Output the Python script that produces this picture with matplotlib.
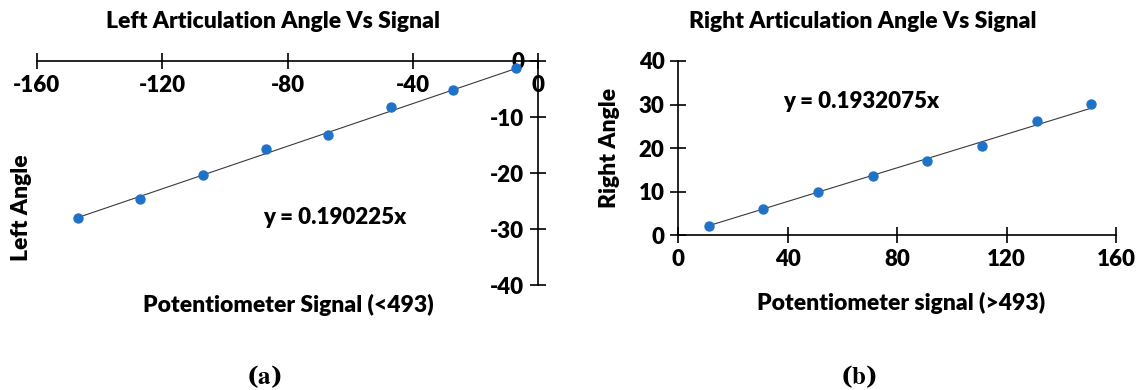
import matplotlib
matplotlib.use("Agg")
import numpy as np
import matplotlib.pyplot as plt

# -------------------------------
# Data
# -------------------------------
left_signal = [-147, -127, -107, -87, -67, -47, -27, -7]
left_angle = [-28.1, -24.6, -20.4, -15.8, -13.3, -8.2, -5.2, -1.2]
left_slope = 0.190225

right_signal = [11, 31, 51, 71, 91, 111, 131, 151]
right_angle = [2.0, 6.05, 10.0, 13.5, 17.0, 20.4, 26.1, 30.2]
right_slope = 0.1932075

left_xticks = [-160, -120, -80, -40, 0]
left_yticks = [0, -10, -20, -30, -40]
right_xticks = [0, 40, 80, 120, 160]
right_yticks = [0, 10, 20, 30, 40]

plt.rcParams['font.family'] = ['Lato', 'DejaVu Sans']
plt.rcParams['font.weight'] = 'bold'
plt.rcParams['mathtext.fontset'] = 'stix'
plt.rcParams['axes.unicode_minus'] = False

dot_color = '#1F72C6'
fs_tick = 16
fs_title = 16.5
fs_label = 16.5
fs_eq = 16

fig = plt.figure(figsize=(11.38, 3.9), dpi=100)


def style_axes(ax):
    for s in ['top', 'right']:
        ax.spines[s].set_visible(False)
    ax.spines['left'].set_position(('data', 0))
    ax.spines['bottom'].set_position(('data', 0))
    for s in ['left', 'bottom']:
        ax.spines[s].set_linewidth(1.2)
    ax.tick_params(direction='inout', length=12, width=1.2, labelsize=fs_tick, pad=4)
    for lab in ax.get_xticklabels() + ax.get_yticklabels():
        lab.set_fontweight('heavy')
    ax.patch.set_visible(False)


# -------------------------------
# (a) Left articulation
# -------------------------------
ax1 = fig.add_axes([0.0325, 0.2692, 0.4403, 0.5744])
ax1.scatter(left_signal, left_angle, s=42, color=dot_color, zorder=3)
xs = np.array([min(left_signal), max(left_signal)])
ax1.plot(xs, left_slope * xs, color='#3a3a3a', lw=0.8, zorder=2)
ax1.set_xlim(-160, 0)
ax1.set_ylim(-40, 0)
ax1.set_xticks(left_xticks)
ax1.set_yticks(left_yticks)
style_axes(ax1)
ax1.text(0.595, 0.3, 'y = 0.190225x', transform=ax1.transAxes, fontsize=fs_eq,
         fontweight='heavy', ha='center', va='center')

# -------------------------------
# (b) Right articulation
# -------------------------------
ax2 = fig.add_axes([0.5962, 0.3974, 0.3845, 0.4462])
ax2.scatter(right_signal, right_angle, s=42, color=dot_color, zorder=3)
xs = np.array([min(right_signal), max(right_signal)])
ax2.plot(xs, right_slope * xs, color='#3a3a3a', lw=0.8, zorder=2)
ax2.set_xlim(0, 160)
ax2.set_ylim(0, 40)
ax2.set_xticks(right_xticks)
ax2.set_yticks(right_yticks)
style_axes(ax2)
ax2.text(0.418, 0.77, 'y = 0.1932075x', transform=ax2.transAxes, fontsize=fs_eq,
         fontweight='heavy', ha='center', va='center')

# -------------------------------
# Titles, labels, captions
# -------------------------------
fig.text(273 / 1138, 1 - 21 / 390, 'Left Articulation Angle Vs Signal',
         fontsize=fs_title, fontweight='heavy', ha='center', va='center')
fig.text(863 / 1138, 1 - 21 / 390, 'Right Articulation Angle Vs Signal',
         fontsize=fs_title, fontweight='heavy', ha='center', va='center')
fig.text(22 / 1138, 1 - 208 / 390, 'Left Angle', rotation=90,
         fontsize=fs_label, fontweight='heavy', ha='center', va='center')
fig.text(610 / 1138, 1 - 148 / 390, 'Right Angle', rotation=90,
         fontsize=fs_label, fontweight='heavy', ha='center', va='center')
fig.text(288 / 1138, 1 - 305 / 390, 'Potentiometer Signal (<493)',
         fontsize=fs_label, fontweight='heavy', ha='center', va='center')
fig.text(901 / 1138, 1 - 303 / 390, 'Potentiometer signal (>493)',
         fontsize=fs_label, fontweight='heavy', ha='center', va='center')
fig.text(264 / 1138, 1 - 377 / 390, r'($\mathbf{a}$)', fontsize=18,
         family='DejaVu Serif', ha='center', va='center')
fig.text(859 / 1138, 1 - 377 / 390, r'($\mathbf{b}$)', fontsize=18,
         family='DejaVu Serif', ha='center', va='center')

fig.savefig('out.png', dpi=100)
plt.close(fig)
